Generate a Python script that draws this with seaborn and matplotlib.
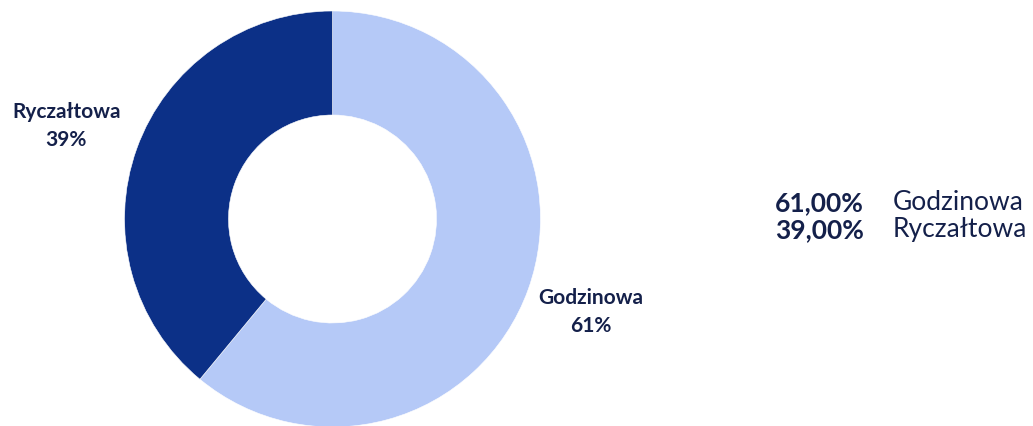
import matplotlib
matplotlib.use("Agg")
import matplotlib.pyplot as plt
import seaborn as sns

# data
categories = ["Godzinowa", "Ryczałtowa"]
shares = [61.0, 39.0]
colors = ["#b5c9f7", "#0c3087"]
text_color = "#14204a"

sns.set_style("white")
plt.rcParams["font.family"] = ["Lato", "DejaVu Sans"]

W, H = 1033, 426
fig = plt.figure(figsize=(W / 100, H / 100), dpi=100)

cx, cy, r = 332.5, 219, 208
ax = fig.add_axes([(cx - r) / W, (H - cy - r) / H, 2 * r / W, 2 * r / H])

labels = [f"{c}\n{round(s)}%" for c, s in zip(categories, shares)]
wedges, texts = ax.pie(shares, colors=colors, startangle=90, counterclock=False,
                       labels=labels, labeldistance=1.32,
                       wedgeprops=dict(width=0.5, edgecolor="white", linewidth=0.4),
                       textprops=dict(color=text_color, fontsize=15, fontweight="bold",
                                      linespacing=1.55))
for t in texts:
    t.set_ha("center")
    t.set_va("center")
# the left label sits a little further out in the original
x, y = texts[1].get_position()
texts[1].set_position((x * 1.03, y))
ax.set_xlim(-1, 1)
ax.set_ylim(-1, 1)
ax.set_aspect("equal")
ax.axis("off")

# legend on the right
for i, (c, s) in enumerate(zip(categories, shares)):
    y = 1 - (203 + 27 * i) / H
    fig.text(775 / W, y, f"{s:.2f}%".replace(".", ","), fontsize=19, fontweight="bold",
             color=text_color, va="center", ha="left")
    fig.text(893 / W, y, c, fontsize=19, color=text_color,
             va="center", ha="left")

fig.savefig("out.png", dpi=100)
